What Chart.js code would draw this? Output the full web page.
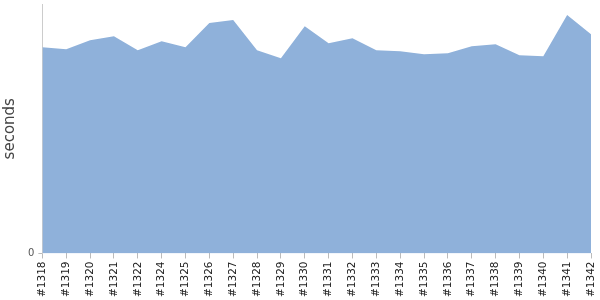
<!DOCTYPE html>
<html>
<head>
<meta charset="utf-8">
<script src="https://cdn.jsdelivr.net/npm/chart.js@4/dist/chart.umd.min.js"></script>
<style>
  html, body { margin: 0; padding: 0; background: #fff; }
  #wrap { width: 600px; height: 300px; }
</style>
</head>
<body>
<div id="wrap"><canvas id="chart"></canvas></div>
<script>
const builds = ['#1318', '#1319', '#1320', '#1321', '#1322', '#1324', '#1325', '#1326', '#1327', '#1328', '#1329', '#1330',
  '#1331', '#1332', '#1333', '#1334', '#1335', '#1336', '#1337', '#1338', '#1339', '#1340', '#1341', '#1342'];
const durations = [205, 203, 212, 216, 202, 211, 205, 229, 232, 202, 194, 226,
  209, 214, 202, 201, 198, 199, 206, 208, 197, 196, 237, 218];
const yTicks = [0];

// let the layout padding decide the plot edges instead of the tick label overhang
const noOverhang = (axis) => {
  axis.paddingTop = axis.paddingBottom = axis.paddingLeft = axis.paddingRight = 0;
};

new Chart(document.querySelector('#chart'), {
  type: 'line',
  data: {
    labels: builds,
    datasets: [{
      data: durations,
      fill: 'origin',
      backgroundColor: '#8fb1da',
      borderWidth: 0,
      pointRadius: 0,
      tension: 0
    }]
  },
  options: {
    responsive: true,
    maintainAspectRatio: false,
    animation: false,
    layout: { padding: { top: 4, right: 9, left: 1, bottom: 0 } },
    plugins: { legend: { display: false }, tooltip: { enabled: false } },
    scales: {
      x: {
        afterFit: noOverhang,
        grid: { drawOnChartArea: false, tickLength: 5, color: '#bbb' },
        border: { display: false },
        ticks: { minRotation: 90, maxRotation: 90, autoSkip: false, color: '#222', padding: 3, font: { family: 'DejaVu Sans', size: 10.5 } }
      },
      y: {
        min: 0,
        max: 248,
        afterFit: noOverhang,
        afterBuildTicks: (axis) => { axis.ticks = yTicks.map((value) => ({ value })); },
        grid: { drawOnChartArea: false, tickLength: 4, color: '#bbb' },
        border: { color: '#ccc' },
        ticks: { color: '#555', padding: 4, font: { family: 'DejaVu Sans', size: 10 } },
        title: { display: true, text: 'seconds', color: '#444', padding: { top: 0, bottom: 5 }, font: { family: 'DejaVu Sans', size: 15 } }
      }
    }
  }
});
</script>
</body>
</html>
